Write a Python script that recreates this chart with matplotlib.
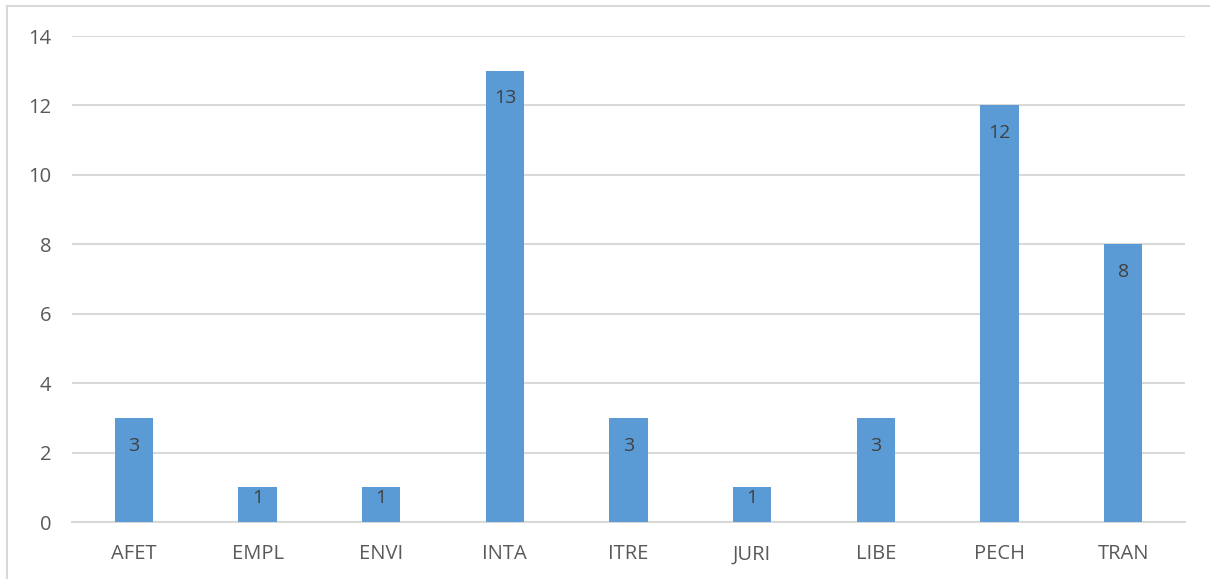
import matplotlib
matplotlib.use("Agg")
import matplotlib.pyplot as plt
from matplotlib.lines import Line2D

categories = ["AFET", "EMPL", "ENVI", "INTA", "ITRE", "JURI", "LIBE", "PECH", "TRAN"]
values = [3, 1, 1, 13, 3, 1, 3, 12, 8]
yticks = [0, 2, 4, 6, 8, 10, 12, 14]

plt.rcParams['font.family'] = ['Open Sans', 'DejaVu Sans']

fig = plt.figure(figsize=(12.1, 5.79), dpi=100)
ax = fig.add_axes([72/1210, 57/579, (1185-72)/1210, (522-36)/579])

x = range(len(categories))
bars = ax.bar(x, values, width=0.31, color="#5B9BD5", zorder=3)
for xi, v in zip(x, values):
    # inside-end label, kept within short bars
    ax.text(xi, v - min(0.8, v * 0.32), str(v), ha="center", va="center",
            fontsize=14, color="#404040", zorder=4)

ax.set_xlim(-0.5, len(categories) - 0.5)
ax.set_ylim(0, 14)
ax.set_yticks(yticks)
ax.set_xticks(list(x))
ax.set_xticklabels(categories)
ax.grid(axis="y", color="#D9D9D9", linewidth=1.5, zorder=0)
for s in ["top", "right", "left"]:
    ax.spines[s].set_visible(False)
ax.spines["bottom"].set_color("#D9D9D9")
ax.spines["bottom"].set_linewidth(1.5)
ax.tick_params(axis="both", length=0, labelsize=14.5, colors="#595959")
ax.tick_params(axis="y", pad=15)
ax.tick_params(axis="x", pad=16)

# figure border (top and left visible)
fig.add_artist(Line2D([7/1210, 7/1210], [0, 1 - 6/579], transform=fig.transFigure, color="#D9D9D9", linewidth=1.5))
fig.add_artist(Line2D([7/1210, 1], [1 - 6/579, 1 - 6/579], transform=fig.transFigure, color="#D9D9D9", linewidth=1.5))

fig.savefig("out.png", dpi=100)
